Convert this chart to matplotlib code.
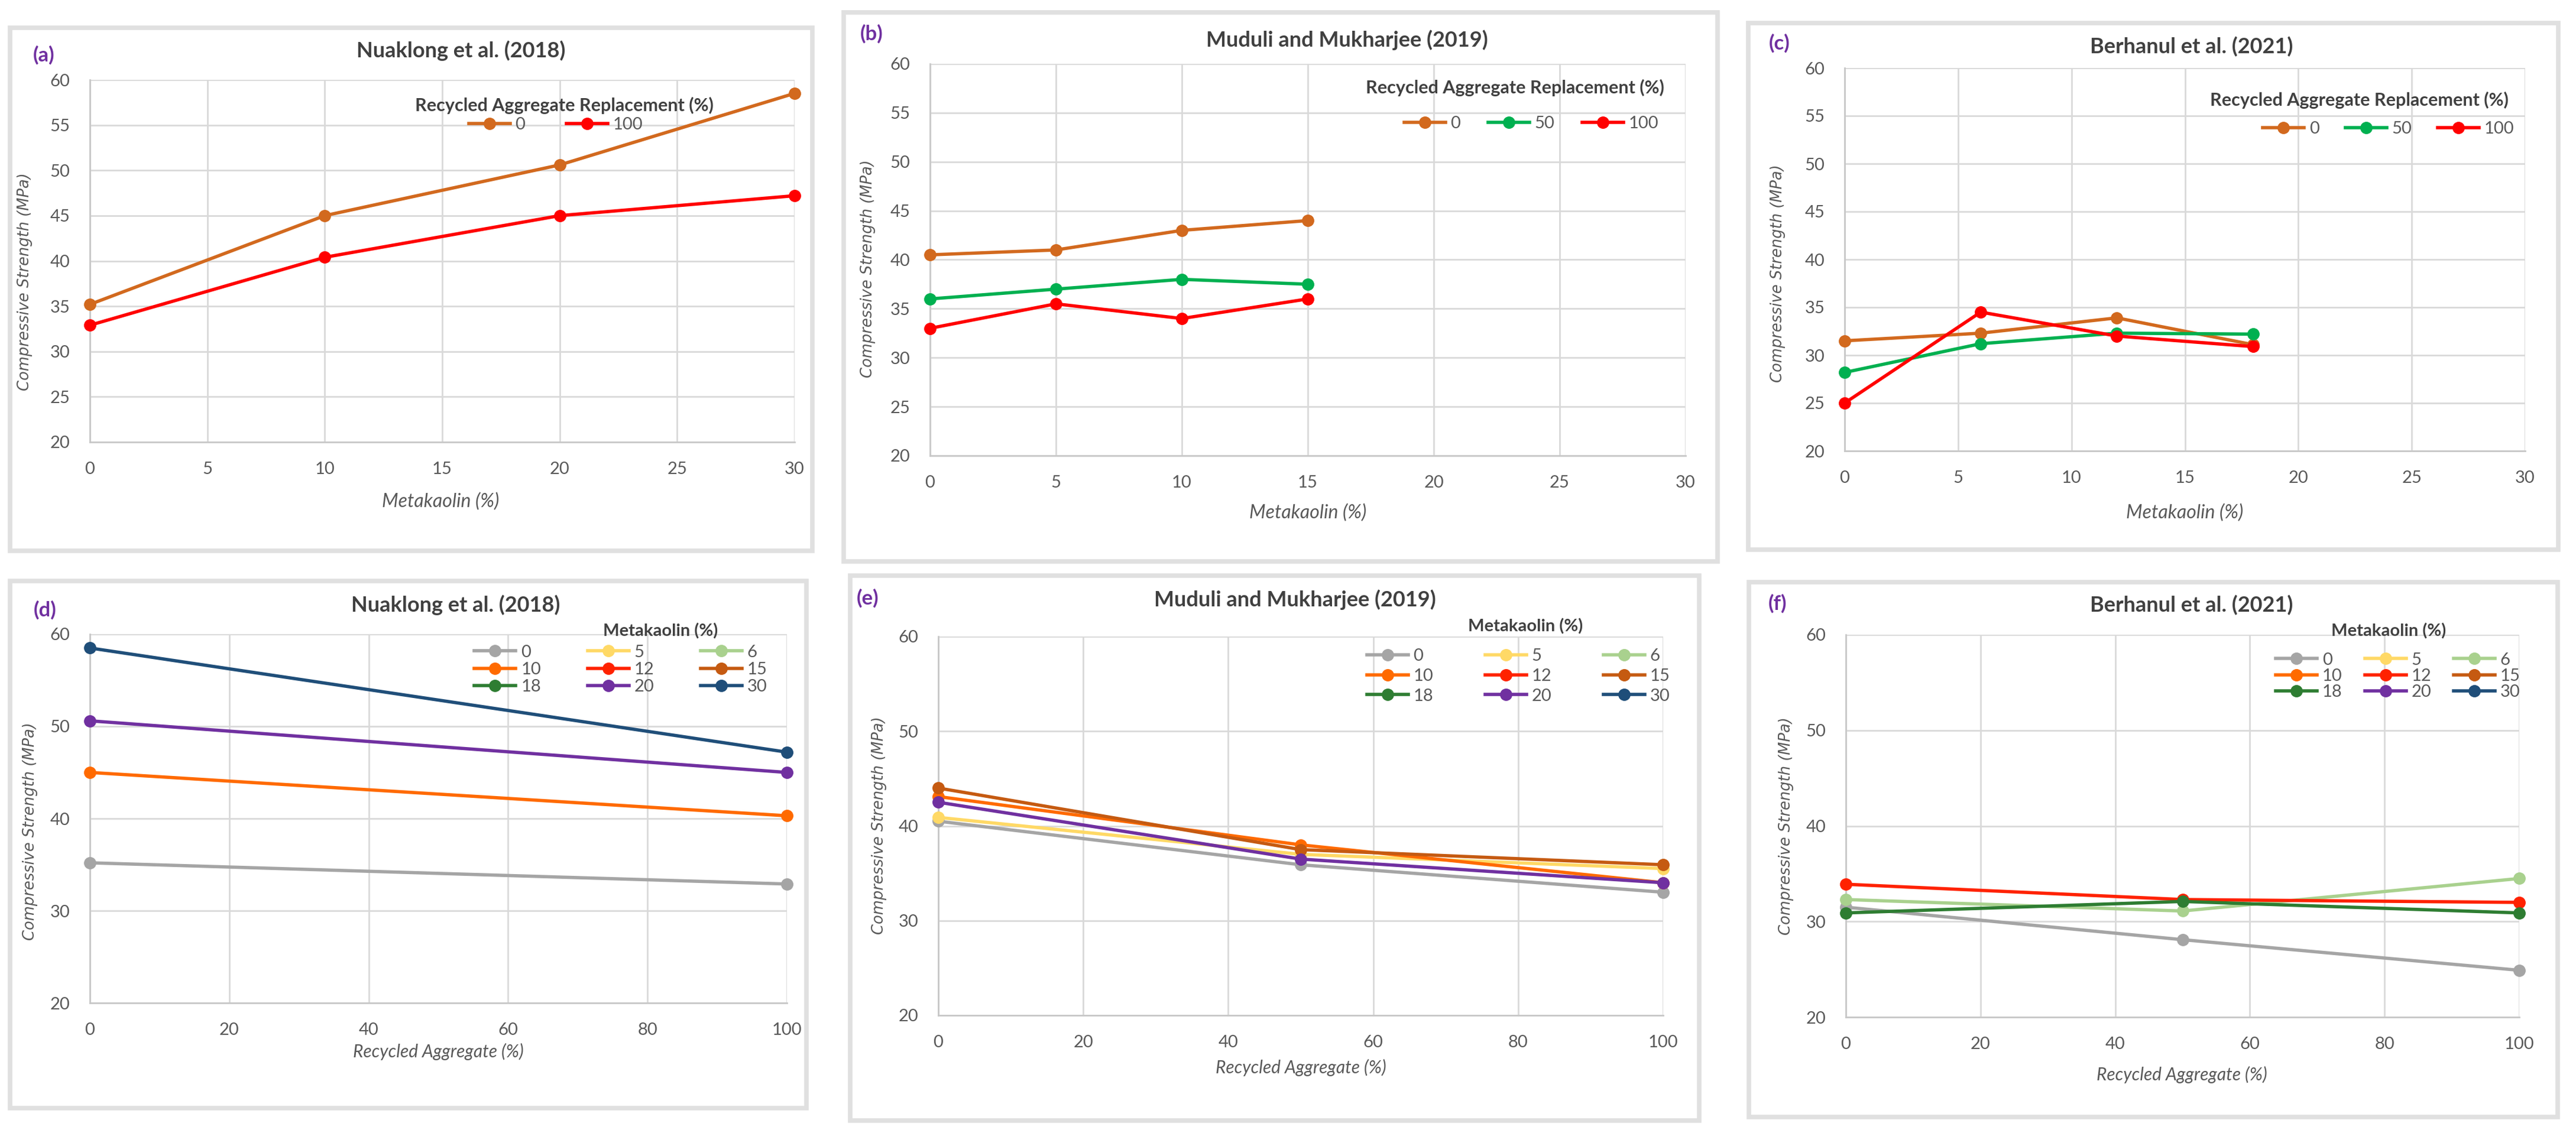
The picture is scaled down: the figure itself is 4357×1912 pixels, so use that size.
import matplotlib
matplotlib.use("Agg")
import matplotlib.pyplot as plt
from matplotlib.lines import Line2D
from matplotlib.patches import Rectangle

plt.rcParams['font.family'] = ['Lato', 'DejaVu Sans']

# ---- data ----
mk_a = [0, 10, 20, 30]
a_ra0 = [35.2, 45.0, 50.6, 58.5]
a_ra100 = [32.9, 40.4, 45.0, 47.2]

mk_b = [0, 5, 10, 15]
b_ra0 = [40.5, 41.0, 43.0, 44.0]
b_ra50 = [36.0, 37.0, 38.0, 37.5]
b_ra100 = [33.0, 35.5, 34.0, 36.0]

mk_c = [0, 6, 12, 18]
c_ra0 = [31.5, 32.3, 33.9, 31.1]
c_ra50 = [28.2, 31.2, 32.3, 32.2]
c_ra100 = [25.0, 34.5, 32.0, 30.9]

ra_d = [0, 100]
d_series = {'0': [35.2, 32.9], '10': [45.0, 40.3], '20': [50.6, 45.0], '30': [58.5, 47.2]}

ra_e = [0, 50, 100]
e_series = {'0': [40.5, 35.9, 33.0], '5': [40.9, 37.0, 35.5], '10': [43.1, 38.0, 34.0],
            '15': [44.0, 37.5, 35.9], '20': [42.5, 36.5, 34.0]}

ra_f = [0, 50, 100]
f_series = {'0': [31.5, 28.1, 24.9], '6': [32.3, 31.1, 34.5], '12': [33.9, 32.3, 32.0],
            '18': [30.9, 32.1, 30.9]}

ra_labels = ['0', '50', '100']
ra_colors = {'0': '#D2691E', '50': '#00B050', '100': '#FF0000'}
mk_labels = ['0', '5', '6', '10', '12', '15', '18', '20', '30']
mk_colors = {'0': '#A5A5A5', '5': '#FFD966', '6': '#A9D18E', '10': '#FF6A00', '12': '#FF2200',
             '15': '#C55A11', '18': '#2E7D32', '20': '#7030A0', '30': '#1F4E79'}

W, H = 4357, 1912
fig = plt.figure(figsize=(W / 100, H / 100), dpi=100)

TXT = '#595959'
DARK = '#404040'
PURPLE = '#7030A0'


def box(x0, y0, x1, y1):
    return [x0 / W, 1 - y1 / H, (x1 - x0) / W, (y1 - y0) / H]


def fxy(x, y):
    return (x / W, 1 - y / H)


def frame(x0, y0, x1, y1):
    r = Rectangle((x0 / W, 1 - y1 / H), (x1 - x0) / W, (y1 - y0) / H, transform=fig.transFigure,
                  fill=False, edgecolor='#e0e0e0', lw=5.5)
    fig.add_artist(r)


def setup_ax(ax, xmax, xstep, ystep):
    ax.set_xlim(0, xmax)
    ax.set_ylim(20, 60)
    ax.set_xticks(range(0, xmax + 1, xstep))
    ax.set_yticks(range(20, 61, ystep))
    ax.grid(True, color='#d9d9d9', lw=2)
    ax.set_axisbelow(True)
    for s in ['top', 'right']:
        ax.spines[s].set_visible(False)
    for s in ['left', 'bottom']:
        ax.spines[s].set_color('#c8c8c8')
        ax.spines[s].set_linewidth(2)
    ax.tick_params(length=0, labelsize=21, labelcolor=TXT, pad=24)


def texts(lab, lab_xy, title, title_xy, xlabel, xl_xy, yl_xy, xl_size):
    fig.text(*fxy(*lab_xy), lab, color=PURPLE, fontsize=25, fontweight='bold', ha='center', va='center')
    fig.text(*fxy(*title_xy), title, color=DARK, fontsize=26, fontweight='bold', ha='center', va='center')
    fig.text(*fxy(*xl_xy), xlabel, color=TXT, fontsize=xl_size, style='italic', ha='center', va='center')
    fig.text(*fxy(*yl_xy), 'Compressive Strength (MPa)', color=TXT, fontsize=18.5, style='oblique',
             family='DejaVu Sans', rotation=90, ha='center', va='center')


def plot_line(ax, x, y, color):
    ax.plot(x, y, color=color, lw=4, marker='o', ms=14, clip_on=False, zorder=3)


def handle(color):
    return Line2D([], [], color=color, lw=4, marker='o', ms=14)


# ---------------- top row: strength vs metakaolin ----------------
frame(17, 47, 1374, 932)
frame(1427, 21, 2905, 950)
frame(2957, 39, 4327, 930)

ax_a = fig.add_axes(box(152, 135, 1344, 748))
setup_ax(ax_a, 30, 5, 5)
plot_line(ax_a, mk_a, a_ra0, ra_colors['0'])
plot_line(ax_a, mk_a, a_ra100, ra_colors['100'])
texts('(a)', (74, 93), 'Nuaklong et al. (2018)', (780, 86), 'Metakaolin (%)', (745, 849), (42, 477), 23)

ax_b = fig.add_axes(box(1573, 108, 2851, 771))
setup_ax(ax_b, 30, 5, 5)
plot_line(ax_b, mk_b, b_ra0, ra_colors['0'])
plot_line(ax_b, mk_b, b_ra50, ra_colors['50'])
plot_line(ax_b, mk_b, b_ra100, ra_colors['100'])
texts('(b)', (1474, 57), 'Muduli and Mukharjee (2019)', (2278, 68), 'Metakaolin (%)', (2212, 868), (1468, 455), 23)

ax_c = fig.add_axes(box(3120, 115, 4271, 763))
setup_ax(ax_c, 30, 5, 5)
plot_line(ax_c, mk_c, c_ra0, ra_colors['0'])
plot_line(ax_c, mk_c, c_ra50, ra_colors['50'])
plot_line(ax_c, mk_c, c_ra100, ra_colors['100'])
texts('(c)', (3010, 73), 'Berhanul et al. (2021)', (3707, 79), 'Metakaolin (%)', (3695, 868), (3007, 463), 23)

# top legends
leg_title = 'Recycled Aggregate Replacement (%)'
for labs, title_xy, row_xy, cs in [(['0', '100'], (954, 178), (940, 211), 2.4),
                                   (ra_labels, (2562, 148), (2590, 209), 1.6),
                                   (ra_labels, (3990, 169), (4040, 218), 1.5)]:
    fig.text(*fxy(*title_xy), leg_title, color=DARK, fontsize=22, fontweight='bold',
             ha='center', va='center')
    fig.legend([handle(ra_colors[l]) for l in labs], labs, loc='center', bbox_to_anchor=fxy(*row_xy),
               ncol=3, frameon=False, fontsize=21, handlelength=2.4, handletextpad=0.3,
               columnspacing=cs, borderpad=0, labelcolor=TXT)

# ---------------- bottom row: strength vs recycled aggregate ----------------
frame(17, 983, 1364, 1875)
frame(1438, 974, 2874, 1896)
frame(2958, 985, 4326, 1890)

ax_d = fig.add_axes(box(152, 1073, 1331, 1697))
setup_ax(ax_d, 100, 20, 10)
for k, v in d_series.items():
    plot_line(ax_d, ra_d, v, mk_colors[k])
texts('(d)', (76, 1032), 'Nuaklong et al. (2018)', (771, 1024), 'Recycled Aggregate (%)', (741, 1779), (51, 1407), 21.5)

ax_e = fig.add_axes(box(1587, 1077, 2813, 1718))
setup_ax(ax_e, 100, 20, 10)
for k, v in e_series.items():
    plot_line(ax_e, ra_e, v, mk_colors[k])
texts('(e)', (1468, 1012), 'Muduli and Mukharjee (2019)', (2190, 1015), 'Recycled Aggregate (%)', (2200, 1806), (1487, 1397), 21.5)

ax_f = fig.add_axes(box(3122, 1074, 4261, 1721))
setup_ax(ax_f, 100, 20, 10)
for k, v in f_series.items():
    plot_line(ax_f, ra_f, v, mk_colors[k])
texts('(f)', (3007, 1021), 'Berhanul et al. (2021)', (3707, 1024), 'Recycled Aggregate (%)', (3690, 1818), (3021, 1398), 21.5)

# bottom legends: 3x3 grid, laid out row by row
order = [0, 3, 6, 1, 4, 7, 2, 5, 8]
mk_handles = [handle(mk_colors[mk_labels[i]]) for i in order]
mk_order_labels = [mk_labels[i] for i in order]
for title_xy, grid_xy, cs, ls in [((1117, 1068), (1050, 1133), 2.7, 0.12),
                                  ((2580, 1060), (2568, 1144), 3.0, 0.26),
                                  ((4040, 1068), (4056, 1144), 1.3, 0.05)]:
    fig.text(*fxy(*title_xy), 'Metakaolin (%)', color=DARK, fontsize=21, fontweight='bold',
             ha='center', va='center')
    fig.legend(mk_handles, mk_order_labels, loc='center', bbox_to_anchor=fxy(*grid_xy), ncol=3,
               frameon=False, fontsize=21, handlelength=2.4, handletextpad=0.3, columnspacing=cs,
               labelspacing=ls, borderpad=0, labelcolor=TXT)

fig.savefig('out.png', dpi=100, facecolor='white')
